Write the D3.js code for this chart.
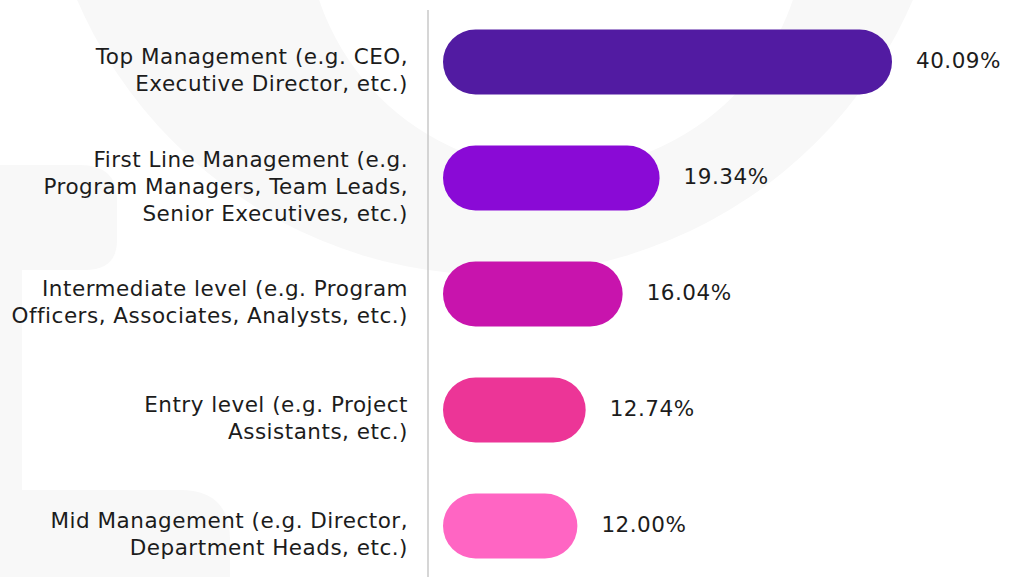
<!DOCTYPE html>
<meta charset="utf-8">
<style>
body { margin: 0; background: #fff; }
svg { display: block; }
.cat text, .val text {
  font-family: "DejaVu Sans", sans-serif;
  font-size: 21.5px;
  letter-spacing: 0.5px;
  fill: #1c1c1c;
}
</style>
<svg width="1010" height="577"></svg>
<script src="https://d3js.org/d3.v7.min.js"></script>
<script>
var categories = [
  "Top Management (e.g. CEO,\nExecutive Director, etc.)",
  "First Line Management (e.g.\nProgram Managers, Team Leads,\nSenior Executives, etc.)",
  "Intermediate level (e.g. Program\nOfficers, Associates, Analysts, etc.)",
  "Entry level (e.g. Project\nAssistants, etc.)",
  "Mid Management (e.g. Director,\nDepartment Heads, etc.)"
];
var values = [40.09, 19.34, 16.04, 12.74, 12.00];
var colors = ["#521ba2", "#8a0ad6", "#c814ad", "#ec3597", "#ff65c3"];

var svg = d3.select("svg"),
    width = +svg.attr("width"),
    height = +svg.attr("height");

// faint watermark in the background
var bg = svg.append("g").attr("fill", "#f8f8f8");
bg.append("path")
  .attr("fill-rule", "evenodd")
  .attr("d", function() {
    var p = d3.path();
    p.moveTo(495 + 455, -180); p.arc(495, -180, 455, 0, 2 * Math.PI);
    p.moveTo(556 + 250, -80); p.arc(556, -80, 250, 0, 2 * Math.PI);
    return p.toString();
  });
bg.append("path")
  .attr("d", "M0,165 H80 Q117,165 117,200 V240 Q117,270 85,270 H22 V490 H180 Q230,490 230,540 V577 H0 Z");

var x0 = 443;
var x = d3.scaleLinear()
    .domain([0, 40.09])
    .range([x0, 892]);

var y = d3.scaleBand()
    .domain(categories)
    .range([29.5, 558.5])
    .paddingInner(0.44)
    .paddingOuter(0);

// vertical axis line
svg.append("line")
    .attr("x1", 428).attr("x2", 428)
    .attr("y1", 10).attr("y2", height)
    .attr("stroke", "#c8c8c8")
    .attr("stroke-width", 1.5);

var bars = svg.append("g").selectAll("rect")
    .data(categories)
    .enter().append("rect")
    .attr("x", x0)
    .attr("y", function(d) { return y(d); })
    .attr("width", function(d, i) { return x(values[i]) - x0; })
    .attr("height", y.bandwidth())
    .attr("rx", y.bandwidth() / 2)
    .attr("fill", function(d, i) { return colors[i]; });

var lineH = 27;
var cat = svg.append("g").attr("class", "cat").selectAll("text")
    .data(categories)
    .enter().append("text")
    .attr("text-anchor", "end")
    .attr("transform", function(d) {
      var n = d.split("\n").length;
      var cy = y(d) + y.bandwidth() / 2 + 8;
      return "translate(408," + (cy - (n - 1) * lineH / 2) + ")";
    });
cat.selectAll("tspan")
    .data(function(d) { return d.split("\n"); })
    .enter().append("tspan")
    .attr("x", 0)
    .attr("y", function(d, i) { return i * lineH; })
    .attr("dy", "0.35em")
    .text(function(d) { return d; });

svg.append("g").attr("class", "val").selectAll("text")
    .data(categories)
    .enter().append("text")
    .attr("x", function(d, i) { return x(values[i]) + 24; })
    .attr("y", function(d) { return y(d) + y.bandwidth() / 2 - 2; })
    .attr("dy", "0.35em")
    .text(function(d, i) { return values[i].toFixed(2) + "%"; });
</script>
